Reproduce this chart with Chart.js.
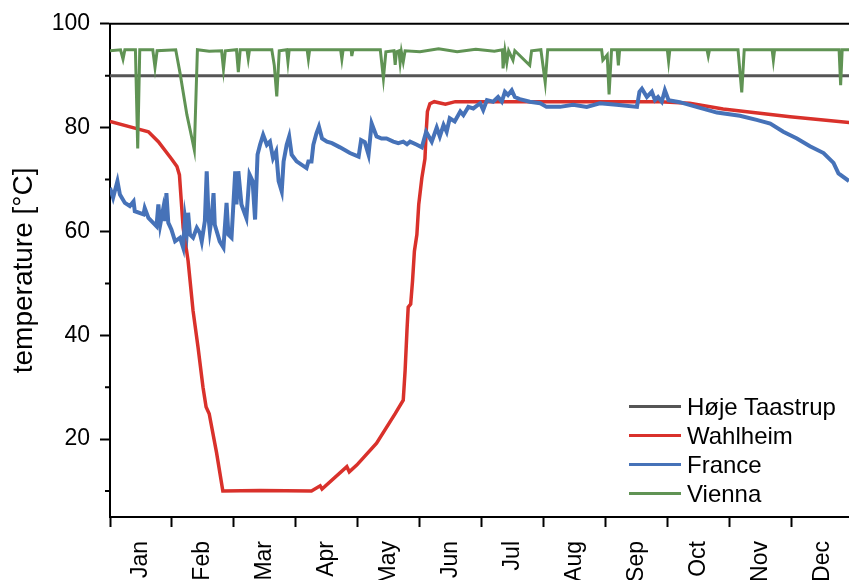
<!DOCTYPE html>
<html>
<head>
<meta charset="utf-8">
<script src="https://cdn.jsdelivr.net/npm/chart.js@4.4.0/dist/chart.umd.min.js"></script>
<style>
  html, body { margin: 0; padding: 0; background: #fff; overflow: hidden; }
  .wrap { position: relative; width: 849px; height: 580px; }
  .legend { position: absolute; left: 629px; top: 392px; margin: 0; padding: 0; list-style: none;
            font: 24px "Liberation Sans", Arial, sans-serif; color: #000; }
  .legend li { display: flex; align-items: center; height: 29px; line-height: 29px; white-space: nowrap; }
  .legend .swatch { display: inline-block; width: 52px; height: 3px; margin-right: 6px; }
</style>
</head>
<body>
<div class="wrap">
  <canvas id="chart"></canvas>
  <ul class="legend"></ul>
</div>
<script>
// x values are months since 1 Jan (0..12), y values in °C
const monthLabels = ["Jan", "Feb", "Mar", "Apr", "May", "Jun", "Jul", "Aug", "Sep", "Oct", "Nov", "Dec"];
const yTicks = [20, 40, 60, 80, 100];
const yMinorTicks = [10, 30, 50, 70, 90];

const seriesNames = ["Høje Taastrup", "Wahlheim", "France", "Vienna"];
const seriesColors = ["#555555", "#d9312b", "#4672b8", "#609354"];

const taastrup = [[0, 90], [12, 90]];

const wahlheim = [
    [0, 81.2], [0.43, 79.8], [0.62, 79.2], [0.78, 77.3], [0.99, 74.0], [1.08, 72.5],
    [1.12, 70.9], [1.18, 60.7], [1.26, 54.3], [1.34, 44.7], [1.42, 37.7], [1.50, 30.0],
    [1.55, 26.2], [1.60, 24.9], [1.72, 17.3], [1.82, 10.0], [2.42, 10.1], [3.25, 10.0],
    [3.39, 11.0], [3.42, 10.4], [3.82, 14.7], [3.86, 13.7], [3.98, 15.0], [4.30, 19.2],
    [4.60, 24.9], [4.73, 27.5], [4.76, 33.2], [4.79, 40.9], [4.81, 45.4], [4.85, 46.0],
    [4.88, 50.5], [4.91, 56.2], [4.95, 59.4], [4.98, 65.2], [5.03, 70.3], [5.08, 74.0],
    [5.10, 79.2], [5.12, 83.1], [5.16, 84.6], [5.23, 85.0], [5.41, 84.5], [5.57, 85.0],
    [8.87, 85.0], [9.35, 84.7], [9.89, 83.6], [10.97, 82.1], [12, 80.9]
];

const france = [
    [0, 68.4], [0.05, 66.5], [0.12, 69.7], [0.16, 67.1], [0.24, 65.5], [0.32, 64.9],
    [0.38, 65.8], [0.40, 63.9], [0.54, 63.3], [0.56, 64.5], [0.62, 62.6], [0.75, 61.0],
    [0.78, 65.2], [0.81, 61.3], [0.86, 64.5], [0.89, 62.0], [0.91, 67.4], [0.94, 61.7],
    [0.99, 60.4], [1.05, 58.1], [1.13, 58.8], [1.18, 56.9], [1.21, 62.6], [1.24, 60.1],
    [1.26, 63.6], [1.29, 59.4], [1.34, 58.8], [1.40, 60.7], [1.45, 59.7], [1.48, 58.1],
    [1.53, 62.0], [1.56, 71.6], [1.59, 62.6], [1.61, 60.1], [1.64, 62.6], [1.67, 67.4],
    [1.69, 61.3], [1.77, 58.1], [1.83, 56.9], [1.88, 65.5], [1.91, 59.4], [1.96, 58.8],
    [2.02, 71.6], [2.04, 65.2], [2.07, 71.6], [2.12, 65.2], [2.20, 62.6], [2.25, 71.0],
    [2.30, 69.7], [2.34, 62.3], [2.38, 74.8], [2.42, 76.7], [2.47, 78.6], [2.53, 76.7],
    [2.58, 77.3], [2.63, 74.1], [2.68, 75.4], [2.72, 69.7], [2.77, 67.7], [2.80, 73.5],
    [2.85, 76.7], [2.89, 78.3], [2.93, 74.8], [3.01, 73.5], [3.17, 72.2], [3.20, 73.5],
    [3.25, 73.5], [3.28, 76.7], [3.33, 78.9], [3.37, 80.2], [3.42, 77.9], [3.50, 77.3],
    [3.58, 77.0], [3.71, 76.2], [3.87, 75.1], [4.01, 74.4], [4.05, 77.6], [4.11, 77.2],
    [4.17, 74.8], [4.22, 80.8], [4.30, 78.3], [4.38, 77.9], [4.46, 77.9], [4.57, 77.3],
    [4.65, 77.0], [4.73, 77.3], [4.79, 76.8], [4.84, 77.3], [4.95, 76.7], [5.03, 76.2],
    [5.10, 79.2], [5.19, 77.3], [5.27, 80.0], [5.32, 78.3], [5.38, 80.5], [5.43, 79.2],
    [5.48, 81.8], [5.56, 81.2], [5.65, 83.1], [5.70, 82.4], [5.78, 84.0], [5.86, 83.7],
    [5.97, 84.7], [6.02, 83.4], [6.08, 85.3], [6.18, 85.0], [6.26, 85.9], [6.32, 85.0],
    [6.37, 86.9], [6.42, 86.3], [6.48, 87.2], [6.53, 85.9], [6.61, 85.5], [6.77, 85.0],
    [6.94, 84.7], [7.04, 84.0], [7.26, 84.0], [7.47, 84.4], [7.69, 84.0], [7.90, 84.7],
    [8.17, 84.4], [8.50, 84.0], [8.54, 86.9], [8.58, 87.5], [8.66, 85.9], [8.74, 86.9],
    [8.79, 85.3], [8.84, 85.9], [8.90, 85.0], [8.95, 87.2], [9.01, 85.3], [9.19, 84.9],
    [9.46, 84.0], [9.79, 82.9], [10.16, 82.3], [10.43, 81.5], [10.65, 80.8], [10.86, 79.2],
    [11.08, 77.9], [11.29, 76.4], [11.51, 75.1], [11.67, 73.2], [11.75, 71.2], [11.92, 69.7],
    [12, 69.2]
];

const vienna = [
    [0, 94.8], [0.17, 95.0], [0.21, 93.2], [0.24, 95.0], [0.41, 95.0], [0.447, 76.0],
    [0.48, 95.0], [0.69, 95.0], [0.726, 91.6], [0.76, 94.8], [1.06, 95.0], [1.13, 90.5],
    [1.24, 82.5], [1.32, 78.0], [1.36, 75.7], [1.41, 95.0], [1.60, 94.7], [1.80, 94.8],
    [1.83, 91.3], [1.86, 94.8], [2.04, 95.0], [2.07, 90.7], [2.10, 95.0], [2.21, 95.0],
    [2.23, 93.3], [2.25, 95.0], [2.61, 95.0], [2.65, 92.0], [2.69, 86.0], [2.73, 94.8],
    [2.85, 95.0], [2.87, 92.7], [2.89, 95.0], [3.18, 95.0], [3.20, 93.2], [3.22, 95.0],
    [3.72, 95.0], [3.74, 93.2], [3.76, 95.0], [3.89, 95.0], [3.90, 93.8], [3.92, 95.0],
    [4.36, 95.0], [4.41, 89.5], [4.45, 94.6], [4.58, 94.8], [4.60, 92.1], [4.62, 94.6],
    [4.66, 94.8], [4.68, 92.5], [4.70, 94.6], [4.73, 92.7], [4.76, 94.8], [5.0, 94.6],
    [5.3, 95.2], [5.6, 94.6], [5.9, 95.1], [6.2, 94.7], [6.33, 95.0], [6.34, 91.4],
    [6.37, 94.8], [6.40, 92.5], [6.43, 94.8], [6.50, 93.0], [6.53, 94.8], [6.77, 92.0],
    [6.80, 94.8], [6.95, 95.0], [7.02, 88.7], [7.06, 95.0], [7.93, 95.0], [7.95, 93.0],
    [8.02, 94.0], [8.05, 86.4], [8.09, 95.0], [8.18, 95.0], [8.20, 92.0], [8.22, 95.0],
    [8.99, 95.0], [9.01, 92.8], [9.03, 95.0], [9.63, 95.0], [9.65, 93.8], [9.67, 95.0],
    [10.13, 95.0], [10.19, 86.8], [10.23, 95.0], [10.68, 95.0], [10.70, 93.0], [10.72, 95.0],
    [11.76, 95.0], [11.785, 88.2], [11.81, 95.0], [12, 95.0]
];

const seriesData = [taastrup, wahlheim, france, vienna];
const seriesWidths = [3, 3.5, 4, 3];

// top edge of the frame + the short minor ticks on the y axis
const framePlugin = {
    id: "frame",
    afterDraw(chart) {
        const { ctx, chartArea, scales } = chart;
        ctx.save();
        ctx.strokeStyle = "#000";
        ctx.lineWidth = 2;
        ctx.beginPath();
        ctx.moveTo(chartArea.left - 1, chartArea.top);
        ctx.lineTo(chartArea.right, chartArea.top);
        yMinorTicks.forEach((v) => {
            const y = scales.y.getPixelForValue(v);
            ctx.moveTo(chartArea.left - 5, y);
            ctx.lineTo(chartArea.left, y);
        });
        ctx.stroke();
        ctx.restore();
    }
};

Chart.defaults.font.family = "'Liberation Sans', Arial, sans-serif";
Chart.defaults.font.size = 23;
Chart.defaults.color = "#000";

const chart = new Chart(document.getElementById("chart"), {
    type: "line",
    data: {
        datasets: seriesData.map((d, i) => ({
            label: seriesNames[i],
            data: d.map((p) => ({ x: p[0], y: p[1] })),
            borderColor: seriesColors[i],
            borderWidth: seriesWidths[i],
            order: seriesData.length - i,
        })),
    },
    options: {
        responsive: true,
        maintainAspectRatio: false,
        animation: false,
        layout: { padding: { top: 21, left: 0, right: 0, bottom: 0 } },
        elements: { point: { radius: 0 }, line: { tension: 0 } },
        plugins: { legend: { display: false }, tooltip: { enabled: false } },
        scales: {
            x: {
                type: "linear",
                min: 0,
                max: 11.92,
                afterBuildTicks: (axis) => {
                    axis.ticks = monthLabels.map((m, i) => ({ value: i + 0.5 }));
                },
                afterFit: (axis) => {
                    axis.height = 63;
                    axis.paddingLeft = 0;
                    axis.paddingRight = 0;
                },
                ticks: {
                    autoSkip: false,
                    minRotation: 90,
                    maxRotation: 90,
                    padding: 14,
                    callback: (v, i) => monthLabels[i],
                },
                grid: { offset: true, drawOnChartArea: false, tickLength: 10, tickWidth: 2, tickColor: "#000" },
                border: { color: "#000", width: 2 },
            },
            y: {
                min: 5,
                max: 100,
                afterBuildTicks: (axis) => {
                    axis.ticks = yTicks.map((v) => ({ value: v }));
                },
                afterFit: (axis) => { axis.width = 110; },
                ticks: { padding: 10 },
                title: {
                    display: true,
                    text: "temperature [°C]",
                    font: { size: 28 },
                    padding: { top: 7 },
                },
                grid: { drawOnChartArea: false, tickLength: 10, tickWidth: 2, tickColor: "#000" },
                border: { color: "#000", width: 2 },
            },
        },
    },
    plugins: [framePlugin],
});

// legend drawn as a list, bottom right inside the plot
const legendUl = document.querySelector(".legend");
seriesNames.forEach((name, i) => {
    const li = document.createElement("li");
    li.innerHTML = `<span class="swatch" style="background:${seriesColors[i]}"></span><span>${name}</span>`;
    legendUl.appendChild(li);
});
</script>
</body>
</html>
